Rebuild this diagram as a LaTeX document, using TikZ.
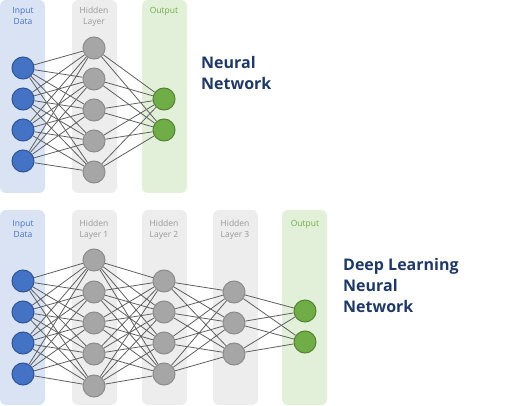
\documentclass[tikz,border=0pt]{standalone}
\usepackage{fontspec}
\setmainfont{Open Sans}
\definecolor{inbg}{HTML}{DAE3F3}
\definecolor{hidbg}{HTML}{EDEDED}
\definecolor{outbg}{HTML}{E2F0D9}
\definecolor{inblue}{HTML}{4472C4}
\definecolor{indark}{HTML}{2F5597}
\definecolor{hidgray}{HTML}{A6A6A6}
\definecolor{hiddark}{HTML}{8C8C8C}
\definecolor{hidtext}{HTML}{999999}
\definecolor{outgreen}{HTML}{70AD47}
\definecolor{outdark}{HTML}{548235}
\definecolor{titleblue}{HTML}{1F3864}
\definecolor{edgegray}{HTML}{5F5F5F}
\tikzset{
  neuron/.style = {circle, minimum size=22pt, inner sep=0pt, line width=1pt},
  inneuron/.style = {neuron, fill=inblue, draw=indark},
  hidneuron/.style = {neuron, fill=hidgray, draw=hiddark},
  outneuron/.style = {neuron, fill=outgreen, draw=outdark},
  layerlabel/.style = {align=center, inner sep=0pt, anchor=base,
    font=\fontsize{8.5}{11}\selectfont},
  title/.style = {align=left, inner sep=0pt, anchor=base west,
    text=titleblue, font=\fontsize{16}{21.5}\selectfont\bfseries},
  link/.style = {draw=edgegray, line width=0.8pt}
}
\begin{document}
\begin{tikzpicture}[x=1pt, y=-1pt]
  \useasboundingbox (0,0) rectangle (512,406);
  % layer columns
  \fill[inbg, rounded corners=6pt] (0,0) rectangle (45,193);
  \fill[hidbg, rounded corners=6pt] (72,0) rectangle (117,193);
  \fill[outbg, rounded corners=6pt] (142,0) rectangle (187,193);
  \fill[inbg, rounded corners=6pt] (0,210) rectangle (45,405);
  \fill[hidbg, rounded corners=6pt] (72,210) rectangle (117,405);
  \fill[hidbg, rounded corners=6pt] (142,210) rectangle (187,405);
  \fill[hidbg, rounded corners=6pt] (213,210) rectangle (258,405);
  \fill[outbg, rounded corners=6pt] (282,210) rectangle (327,405);

  % simple network
  \node[layerlabel, text=inblue] (Lin) at (23,25) {Input\\Data};
  \node[layerlabel, text=hidtext] (Lhid) at (94,25) {Hidden\\Layer};
  \node[layerlabel, text=outgreen] (Lout) at (164,14) {Output};

  \node[inneuron] (i1) at (23,68) {};
  \node[inneuron] (i2) at (23,99) {};
  \node[inneuron] (i3) at (23,130) {};
  \node[inneuron] (i4) at (23,161) {};
  \node[hidneuron] (h1) at (94,48) {};
  \node[hidneuron] (h2) at (94,79) {};
  \node[hidneuron] (h3) at (94,110) {};
  \node[hidneuron] (h4) at (94,141) {};
  \node[hidneuron] (h5) at (94,172) {};
  \node[outneuron] (o1) at (164,99) {};
  \node[outneuron] (o2) at (164,130) {};

  \foreach \a in {1,...,4} \foreach \b in {1,...,5} \path[link] (i\a) -- (h\b);
  \foreach \a in {1,...,5} \foreach \b in {1,2} \path[link] (h\a) -- (o\b);

  \node[title] (NN) at (201,90) {Neural\\Network};

  % deep network
  \node[layerlabel, text=inblue] (DLin) at (23,238) {Input\\Data};
  \node[layerlabel, text=hidtext] (DLa) at (94,238) {Hidden\\Layer 1};
  \node[layerlabel, text=hidtext] (DLb) at (164,238) {Hidden\\Layer 2};
  \node[layerlabel, text=hidtext] (DLc) at (235,238) {Hidden\\Layer 3};
  \node[layerlabel, text=outgreen] (DLout) at (305,227) {Output};

  \node[inneuron] (di1) at (23,281) {};
  \node[inneuron] (di2) at (23,312) {};
  \node[inneuron] (di3) at (23,343) {};
  \node[inneuron] (di4) at (23,374) {};
  \node[hidneuron] (da1) at (94,260) {};
  \node[hidneuron] (da2) at (94,292) {};
  \node[hidneuron] (da3) at (94,323) {};
  \node[hidneuron] (da4) at (94,354) {};
  \node[hidneuron] (da5) at (94,386) {};
  \node[hidneuron] (db1) at (164,281) {};
  \node[hidneuron] (db2) at (164,312) {};
  \node[hidneuron] (db3) at (164,343) {};
  \node[hidneuron] (db4) at (164,374) {};
  \node[hidneuron] (dc1) at (234,292) {};
  \node[hidneuron] (dc2) at (234,323) {};
  \node[hidneuron] (dc3) at (234,354) {};
  \node[outneuron] (do1) at (305,311) {};
  \node[outneuron] (do2) at (305,342) {};

  \foreach \a in {1,...,4} \foreach \b in {1,...,5} \path[link] (di\a) -- (da\b);
  \foreach \a in {1,...,5} \foreach \b in {1,...,4} \path[link] (da\a) -- (db\b);
  \foreach \a in {1,...,4} \foreach \b in {1,2,3} \path[link] (db\a) -- (dc\b);
  \foreach \a in {1,2,3} \foreach \b in {1,2} \path[link] (dc\a) -- (do\b);

  \node[title] (DLNN) at (343,313) {Deep Learning\\Neural\\Network};
\end{tikzpicture}
\end{document}
